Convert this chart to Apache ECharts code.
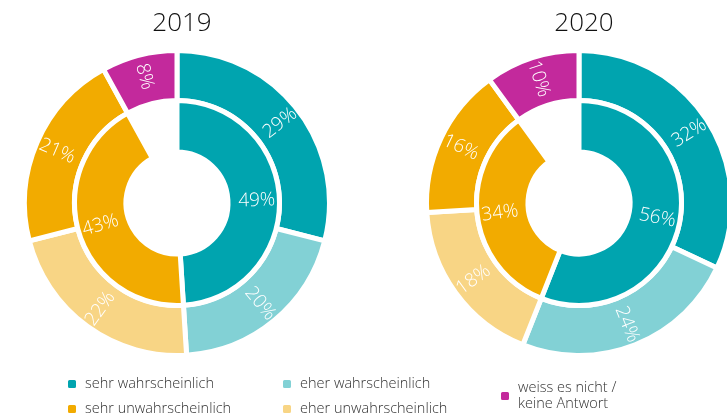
<!DOCTYPE html>
<html>
<head>
<meta charset="utf-8">
<script src="https://cdn.jsdelivr.net/npm/echarts@6/dist/echarts.min.js"></script>
<style>
html, body { margin: 0; padding: 0; background: #fff; }
#chart { width: 727px; height: 416px; }
</style>
</head>
<body>
<div id="chart"></div>
<script>
// categories (outer ring, clockwise from 12 o'clock)
var categories = ['sehr wahrscheinlich', 'eher wahrscheinlich', 'eher unwahrscheinlich', 'sehr unwahrscheinlich', 'weiss es nicht /\nkeine Antwort'];
var years = ['2019', '2020'];

// outer ring values per year
var outer2019 = [29, 20, 22, 21, 8];
var outer2020 = [32, 24, 18, 16, 10];

// inner ring: wahrscheinlich total, unwahrscheinlich total, rest (blank)
var inner2019 = [49, 43, 8];
var inner2020 = [56, 34, 10];

var colors = ['#00a4af', '#82d1d5', '#f8d585', '#f2ab00', '#c3299c'];
var innerColors = ['#00a4af', '#f2ab00', 'transparent'];
var centers = [[177, 203], [579, 203]];

var labelStyle = {
	show: true,
	position: 'inside',
	rotate: 'radial',
	color: '#fff',
	fontSize: 19,
	fontWeight: 300,
	fontFamily: 'Open Sans',
	formatter: '{c}%'
};

function outerSeries(values, center) {
	return {
		type: 'pie',
		center: center,
		radius: [102.5, 152.5],
		startAngle: 90,
		clockwise: true,
		silent: true,
		animation: false,
		label: labelStyle,
		labelLine: { show: false },
		itemStyle: { borderColor: '#fff', borderWidth: 5 },
		data: values.map(function(v, i) {
			return { name: categories[i], value: v, itemStyle: { color: colors[i] } };
		})
	};
}

function innerSeries(values, center) {
	return {
		type: 'pie',
		center: center,
		radius: [51, 102.5],
		startAngle: 90,
		clockwise: true,
		silent: true,
		animation: false,
		label: labelStyle,
		labelLine: { show: false },
		itemStyle: { borderColor: '#fff', borderWidth: 5 },
		data: values.map(function(v, i) {
			var item = { name: 'inner' + i, value: v, itemStyle: { color: innerColors[i] } };
			if (i == 2) {
				item.label = { show: false };
				item.itemStyle.borderWidth = 0;
			}
			return item;
		})
	};
}

var legendText = {
	color: '#333',
	fontSize: 14.5,
	fontFamily: 'Open Sans',
	fontWeight: 300,
	lineHeight: 16,
	padding: [0, 0, 0, 3]
};

function legendCol(left, top, names) {
	return {
		orient: 'vertical',
		left: left,
		top: top,
		width: 200,
		height: 80,
		padding: 0,
		itemWidth: 10,
		itemHeight: 10,
		itemGap: 9,
		icon: 'roundRect',
		selectedMode: false,
		textStyle: legendText,
		data: names
	};
}

var chart = echarts.init(document.getElementById('chart'));
chart.setOption({
	title: [
		{
			text: years[0],
			left: centers[0][0],
			top: 6,
			textAlign: 'center',
			textStyle: { fontSize: 26, fontWeight: 300, color: '#111', fontFamily: 'Open Sans' }
		},
		{
			text: years[1],
			left: centers[1][0],
			top: 6,
			textAlign: 'center',
			textStyle: { fontSize: 26, fontWeight: 300, color: '#111', fontFamily: 'Open Sans' }
		}
	],
	legend: [
		legendCol(66, 376, [categories[0], categories[3]]),
		legendCol(281, 376, [categories[1], categories[2]]),
		legendCol(499, 380, [categories[4]])
	],
	series: [
		outerSeries(outer2019, centers[0]),
		innerSeries(inner2019, centers[0]),
		outerSeries(outer2020, centers[1]),
		innerSeries(inner2020, centers[1])
	]
});
</script>
</body>
</html>
